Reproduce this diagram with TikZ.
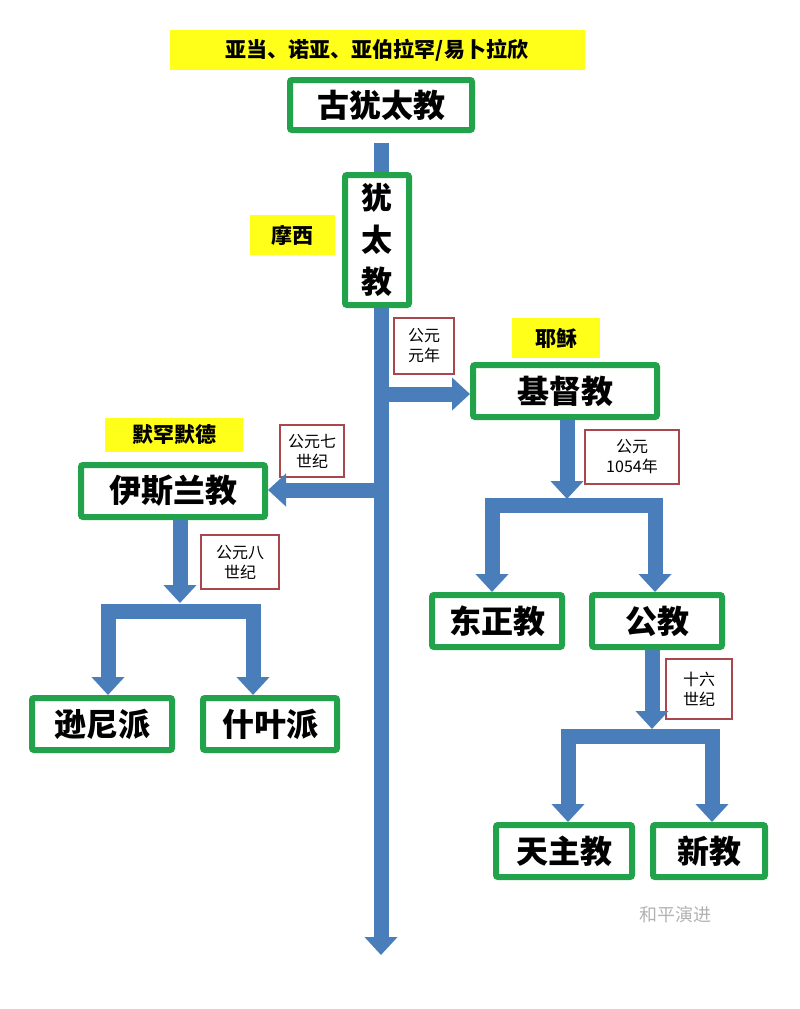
\documentclass[tikz,border=0pt]{standalone}
\usepackage{fontspec}
\newfontfamily\cjk{Noto Sans CJK SC}
\usetikzlibrary{arrows.meta}
\definecolor{gbox}{HTML}{22A24A}
\definecolor{barc}{HTML}{4A7EBB}
\definecolor{redb}{HTML}{A8484C}
\definecolor{yel}{HTML}{FFFF1A}
\tikzset{
  gb/.style={draw=gbox,line width=6pt,fill=white,rounded corners=2pt,inner sep=0pt,font=\cjk\bfseries\fontsize{32}{34}\selectfont},
  yb/.style={fill=yel,inner sep=0pt,font=\cjk\bfseries\fontsize{21}{23}\selectfont},
  rb/.style={draw=redb,line width=2pt,fill=white,inner sep=0pt,align=center,font=\cjk\fontsize{16}{20}\selectfont},
  bar/.style={draw=barc,line width=15pt},
  hbar/.style={bar,line cap=rect},
  barr/.style={bar,-{Triangle[width=32pt,length=18pt]}},
}
\begin{document}
\begin{tikzpicture}[x=1pt,y=-1pt]
\useasboundingbox (0,0) rectangle (800,1009);
% main trunk
\coordinate (tt) at (381,143);
\coordinate (tb) at (381,955);
\draw[barr] (tt) -- (tb);
% yellow labels
\node[yb,minimum width=415,minimum height=40] (ya) at (377,50) {亚当、诺亚、亚伯拉罕/易卜拉欣};
\node[yb,minimum width=85,minimum height=40] (ym) at (292,235) {摩西};
\node[yb,minimum width=88,minimum height=40] (yj) at (556,338) {耶稣};
\node[yb,minimum width=138,minimum height=34] (yh) at (174,435) {默罕默德};
% boxes
\node[gb,minimum width=182,minimum height=50] (gu) at (381,105) {古犹太教};
\node[gb,minimum width=64,minimum height=130,align=center,font=\cjk\bfseries\fontsize{31}{42}\selectfont] (yt) at (377,240) {犹\\太\\教};
\node[gb,minimum width=184,minimum height=52] (jd) at (565,391) {基督教};
\node[gb,minimum width=184,minimum height=52] (ys) at (173,491) {伊斯兰教};
\node[gb,minimum width=130,minimum height=52] (dz) at (497,621) {东正教};
\node[gb,minimum width=130,minimum height=52] (gj) at (657,621) {公教};
\node[gb,minimum width=136,minimum height=52] (tz) at (564,851) {天主教};
\node[gb,minimum width=112,minimum height=52] (xj) at (709,851) {新教};
\node[gb,minimum width=140,minimum height=52] (xn) at (102,724) {逊尼派};
\node[gb,minimum width=134,minimum height=52] (sy) at (270,724) {什叶派};
% red date boxes
\node[rb,minimum width=60,minimum height=56] (r1) at (424,346) {公元\\元年};
\node[rb,minimum width=64,minimum height=52] (r2) at (312,451) {公元七\\世纪};
\node[rb,minimum width=94,minimum height=54] (r3) at (632,457) {公元\\1054年};
\node[rb,minimum width=78,minimum height=54] (r4) at (240,562) {公元八\\世纪};
\node[rb,minimum width=66,minimum height=60] (r5) at (699,689) {十六\\世纪};
% branches from trunk
\coordinate (b1) at (388,394);
\draw[barr] (b1) -- (b1 -| jd.west);
\coordinate (b2) at (374,490);
\draw[barr] (b2) -- (b2 -| ys.east);
% christianity split
\coordinate (h1) at (567,499);
\coordinate (hl) at (492,505);
\coordinate (hr) at (655,505);
\draw[barr] (jd.south -| h1) -- (h1);
\draw[hbar] (hl) -- (hr);
\draw[barr] (hl) -- (dz.north -| hl);
\draw[barr] (hr) -- (gj.north -| hr);
% catholic split
\coordinate (h2) at (652,729);
\coordinate (kl) at (568,736);
\coordinate (kr) at (712,736);
\draw[barr] (gj.south -| h2) -- (h2);
\draw[hbar] (kl) -- (kr);
\draw[barr] (kl) -- (tz.north -| kl);
\draw[barr] (kr) -- (xj.north -| kr);
% islam split
\coordinate (h3) at (180,603);
\coordinate (sl) at (108,611);
\coordinate (sr) at (253,611);
\draw[barr] (ys.south -| h3) -- (h3);
\draw[hbar] (sl) -- (sr);
\draw[barr] (sl) -- (xn.north -| sl);
\draw[barr] (sr) -- (sy.north -| sr);
% watermark
\node[text=black!30,font=\cjk\fontsize{18}{20}\selectfont] (wm) at (675,915) {和平演进};
\end{tikzpicture}
\end{document}
